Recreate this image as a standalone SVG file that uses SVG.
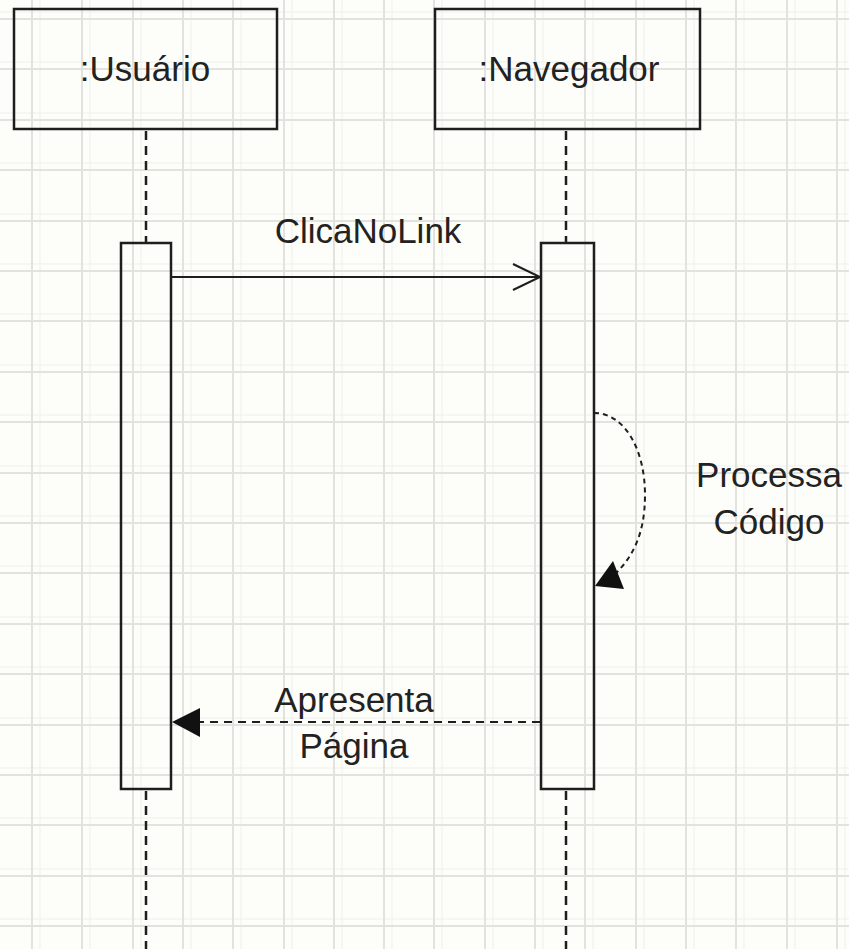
<svg xmlns="http://www.w3.org/2000/svg" width="849" height="949" viewBox="0 0 849 949">
<style>
.grid{stroke:#e2e2de;stroke-width:2;fill:none}
.grid2{stroke:#efefeb;stroke-width:1;fill:none}
.box{fill:none;stroke:#1e1e1e;stroke-width:2.5}
.life{stroke:#1e1e1e;stroke-width:2.5;stroke-dasharray:9 6;fill:none}
.msg{stroke:#1e1e1e;stroke-width:2;fill:none}
.ret{stroke:#1e1e1e;stroke-width:2;stroke-dasharray:8 6;fill:none}
.self{stroke:#1e1e1e;stroke-width:2;stroke-dasharray:5 4;fill:none}
text{font-family:"Liberation Sans",Arial,sans-serif;font-size:35px;fill:#222;text-anchor:middle}
</style>
<rect width="849" height="949" fill="#fdfdf9"/>
<g id="grid">
<path class="grid2" d="M40 0V949M90 0V949M141 0V949M191 0V949M241 0V949M292 0V949M342 0V949M392 0V949M442 0V949M493 0V949M543 0V949M593 0V949M644 0V949M694 0V949M744 0V949M795 0V949M845 0V949M0 12H849M0 62H849M0 113H849M0 163H849M0 214H849M0 264H849M0 314H849M0 365H849M0 415H849M0 466H849M0 516H849M0 566H849M0 617H849M0 667H849M0 718H849M0 768H849M0 818H849M0 869H849M0 919H849"/>
<path class="grid" d="M32 0V949M82 0V949M133 0V949M183 0V949M233 0V949M284 0V949M334 0V949M384 0V949M434 0V949M485 0V949M535 0V949M585 0V949M636 0V949M686 0V949M736 0V949M787 0V949M837 0V949M0 19H849M0 69H849M0 120H849M0 170H849M0 221H849M0 271H849M0 321H849M0 372H849M0 422H849M0 473H849M0 523H849M0 573H849M0 624H849M0 674H849M0 725H849M0 775H849M0 825H849M0 876H849M0 926H849"/>
</g>
<g id="usuario">
<rect class="box" x="14" y="9" width="263" height="120"/>
<text x="145" y="81">:Usuário</text>
<line class="life" x1="146" y1="131" x2="146" y2="243"/>
<rect class="box" x="121" y="243" width="50" height="546"/>
<line class="life" x1="146" y1="791" x2="146" y2="949"/>
</g>
<g id="navegador">
<rect class="box" x="435" y="9" width="265" height="120"/>
<text x="569" y="81">:Navegador</text>
<line class="life" x1="566" y1="131" x2="566" y2="243"/>
<rect class="box" x="541" y="243" width="53" height="546"/>
<line class="life" x1="566" y1="791" x2="566" y2="949"/>
</g>
<g id="connectors">
<g id="clicanolink">
<line class="msg" x1="171" y1="277" x2="540" y2="277"/>
<path class="msg" d="M513 264 L540 277 L513 290"/>
<text x="368" y="243">ClicaNoLink</text>
</g>
<g id="processa">
<path class="self" d="M594 413 C625 413 645 450 645 495 C645 535 632 558 614 575"/>
<path d="M595 586 L613 561 L624 589 Z" fill="#111"/>
<text x="769" y="487">Processa</text>
<text x="769" y="534">Código</text>
</g>
<g id="apresenta">
<line class="ret" x1="540" y1="722" x2="200" y2="722"/>
<path d="M172 722 L200 708 L200 737 Z" fill="#111"/>
<text x="354" y="712">Apresenta</text>
<text x="354" y="758">Página</text>
</g>
</g>
</svg>
